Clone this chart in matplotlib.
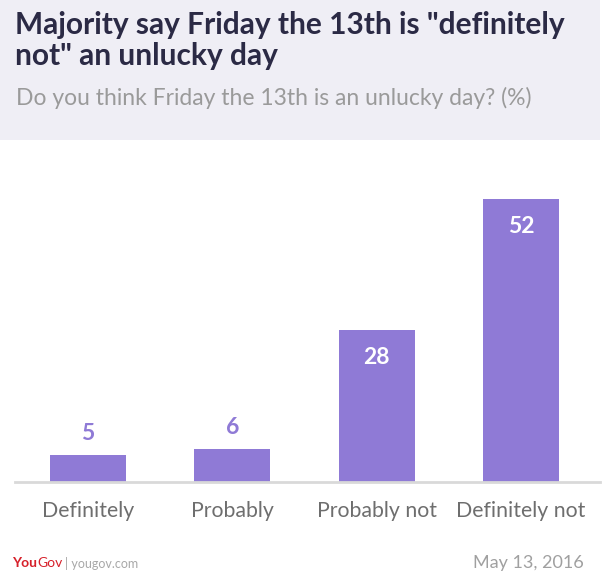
import matplotlib.pyplot as plt
from matplotlib.patches import Rectangle

plt.rcParams['font.family'] = ['Lato', 'DejaVu Sans']

categories = ['Definitely', 'Probably', 'Probably not', 'Definitely not']
values = [5, 6, 28, 52]

title = 'Majority say Friday the 13th is "definitely\nnot" an unlucky day'
subtitle = 'Do you think Friday the 13th is an unlucky day? (%)'
date_text = 'May 13, 2016'

bar_color = '#8f7ad6'
W, H = 602, 577

fig = plt.figure(figsize=(W / 100, H / 100), dpi=100)
fig.patch.set_facecolor('white')

# header band
fig.patches.append(Rectangle((0, 1 - 140 / H), 600 / W, 140 / H, transform=fig.transFigure,
                             facecolor='#efeef5', edgecolor='none', zorder=0))
fig.text(15 / W, 1 - 11 / H, title, ha='left', va='top', fontsize=21.5, fontweight='bold',
         color='#2b2a45', linespacing=1.13)
fig.text(16 / W, 1 - 98 / H, subtitle, ha='left', va='center', fontsize=16.5,
         color='#9a9a9a')

ax = fig.add_axes([15 / W, 1 - 482 / H, 585 / W, 322 / H])
x = list(range(len(categories)))
ax.bar(x, values, width=0.527, color=bar_color, zorder=2)
ax.set_xlim(-0.506, 3.547)
ax.set_ylim(0, 59.2)

for xi, v in zip(x, values):
    if v < 15:
        ax.annotate(str(v), (xi, v), xytext=(0, 8), textcoords='offset points', ha='center',
                    va='bottom', fontsize=16.5, fontweight='bold', color=bar_color)
    else:
        ax.annotate(str(v), (xi, v), xytext=(0, -20), textcoords='offset points', ha='center',
                    va='center', fontsize=16.5, fontweight='bold', color='white')

for s in ['top', 'right', 'left']:
    ax.spines[s].set_visible(False)
ax.spines['bottom'].set_color('#d9d9d9')
ax.spines['bottom'].set_linewidth(2)
ax.set_yticks([])
ax.set_xticks(x)
ax.set_xticklabels(categories, fontsize=15.3, color='#6e6e6e')
ax.tick_params(axis='x', length=0, pad=14)
ax.set_facecolor('none')

# footer
fy = 1 - 563 / H
you = fig.text(12 / W, fy, 'You', ha='left', va='center', fontsize=10, fontweight='bold',
               color='#d6202a')
fig.canvas.draw()
r = fig.canvas.get_renderer()
x1 = you.get_window_extent(r).x1 / W
gov = fig.text(x1, fy, 'Gov', ha='left', va='center', fontsize=10, color='#d6202a')
x2 = gov.get_window_extent(r).x1 / W
fig.text(x2 + 3 / W, fy, '| yougov.com', ha='left', va='center', fontsize=9,
         color='#a8a8a8')
fig.text(584 / W, fy, date_text, ha='right', va='center', fontsize=13,
         color='#a0a0a0')

fig.savefig('out.png', dpi=100)
